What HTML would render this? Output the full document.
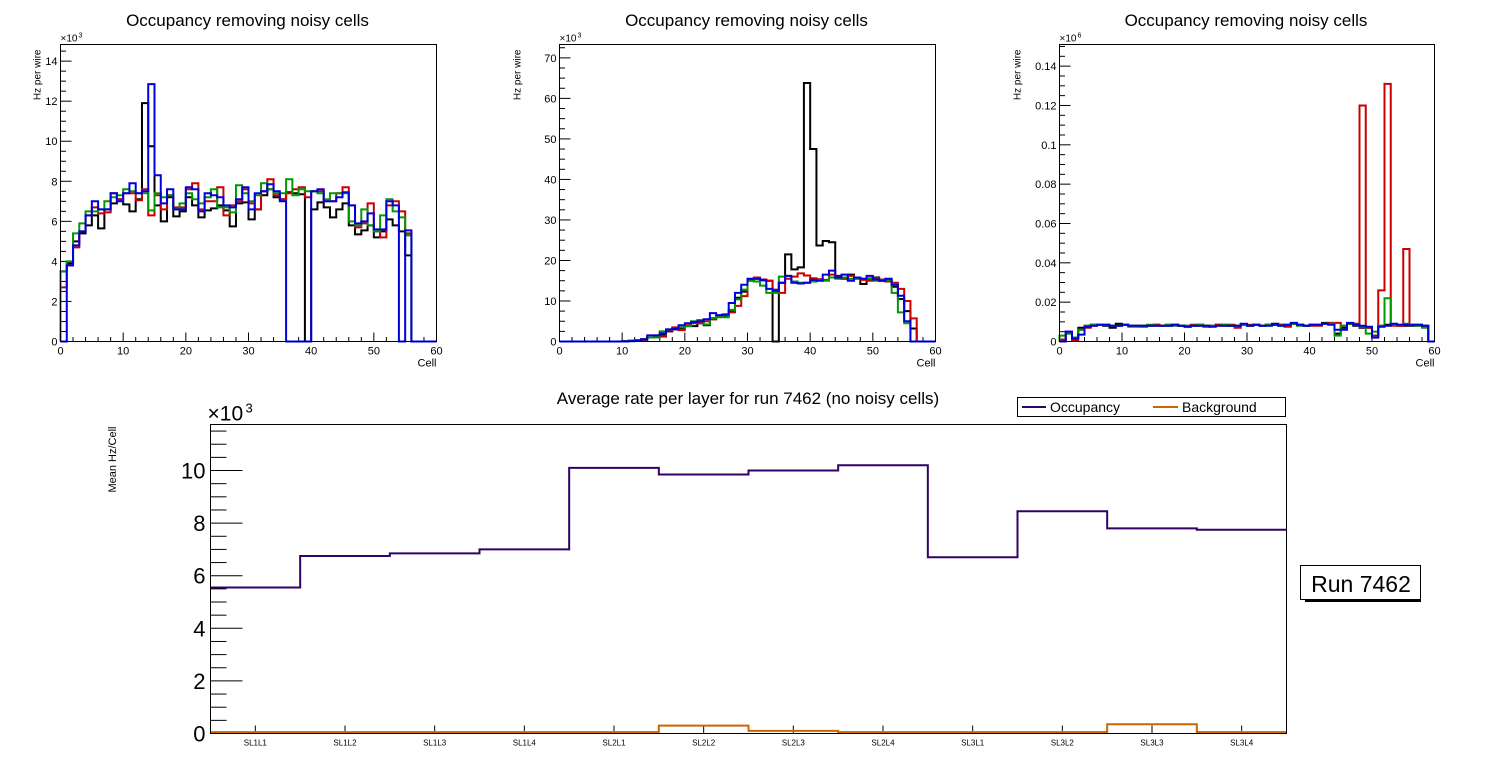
<!DOCTYPE html>
<html><head><meta charset="utf-8"><style>
body{margin:0;background:#fff;}
svg{display:block;font-family:"Liberation Sans",sans-serif;}
</style></head><body>
<svg id="c" width="1496" height="772" xmlns="http://www.w3.org/2000/svg"></svg>
<script>
// ---- Top-left panel data (x10^3 Hz) ----
const tlBlack=[3.5,3.9,5.0,5.4,5.8,6.3,5.65,6.6,6.9,7.1,6.85,6.5,7.1,11.9,9.75,6.8,6.0,7.2,6.25,6.5,7.2,6.8,6.2,6.55,6.65,6.8,6.55,5.75,6.9,6.95,6.1,6.6,7.3,7.6,7.2,7.1,7.45,7.4,7.35,0,6.6,6.95,6.7,6.2,6.6,6.9,5.8,5.35,5.55,5.8,5.2,5.5,6.1,5.8,5.5,4.3,0,0,0,0];
const tlRed=[2.7,3.8,4.7,5.5,6.3,6.7,6.4,6.45,7.4,7.1,7.4,7.4,7.05,7.6,6.3,7.3,6.6,7.3,6.7,6.7,7.6,7.9,6.6,7.0,7.0,7.7,6.3,6.8,7.0,7.6,6.9,6.6,7.5,8.1,7.3,7.1,7.4,7.6,7.7,7.2,7.5,7.5,7.0,7.0,7.4,7.7,6.8,5.7,5.9,6.9,5.5,5.2,6.8,7.0,6.5,5.4,0,0,0,0];
const tlGreen=[3.5,4.0,5.4,5.9,6.5,6.5,6.6,7.0,7.2,7.3,7.6,7.5,7.4,7.4,6.55,7.4,7.2,7.3,6.6,6.9,7.4,7.1,6.9,7.2,7.6,6.7,6.7,6.45,7.8,7.4,7.0,7.3,7.9,7.6,7.4,7.4,8.1,7.3,7.6,7.5,7.5,7.4,7.1,7.4,7.4,7.4,6.0,5.8,6.6,5.8,5.5,6.3,7.1,6.5,6.2,5.3,0,0,0,0];
const tlBlue=[0,3.8,4.8,5.5,6.3,7.0,6.6,6.6,7.4,7.0,7.4,7.9,7.4,7.5,12.85,8.3,6.9,7.6,6.6,6.6,7.7,7.6,6.5,7.4,7.3,7.2,6.8,6.7,7.1,7.7,6.6,7.4,7.5,7.85,7.5,7.0,0,0,0,0,7.5,7.6,7.0,7.0,7.2,7.45,6.8,5.9,6.0,6.4,5.6,5.6,7.0,6.8,0,5.55,0,0,0,0];
// ---- Top-middle panel data (x10^3 Hz) ----
const tmBlack=[0,0,0,0,0,0,0,0,0,0,0.1,0.2,0.3,0.6,1.0,1.3,1.7,2.5,3.0,3.3,3.8,3.8,4.5,4.0,5.5,6.3,6.2,7.5,10.8,12.3,15.2,15.5,15.1,15.0,0,14.5,21.5,17.8,18.3,63.8,47.5,23.7,24.8,24.5,16.2,15.5,16.5,15.8,14.2,15.5,15.8,15.0,15.2,13.5,10.5,7.5,3.2,0,0,0];
const tmRed=[0,0,0,0,0,0,0,0,0,0,0,0.2,0.3,0.2,1.0,1.5,1.2,2.7,3.5,2.8,4.0,4.5,4.5,5.0,5.5,6.2,6.5,7.2,8.8,11.2,15.0,15.8,15.3,15.0,12.8,12.0,15.5,16.0,16.8,16.3,15.6,15.4,15.2,16.5,16.0,15.5,16.2,15.5,15.2,15.0,15.6,15.3,14.8,14.5,13.0,10.0,5.7,0,0,0];
const tmGreen=[0,0,0,0,0,0,0,0,0,0,0,0.1,0.2,0.5,1.0,1.0,2.5,3.0,3.3,3.5,3.8,5.0,5.3,4.2,5.8,6.0,6.0,7.8,10.4,12.8,15.0,14.8,13.8,12.0,12.0,16.0,16.2,14.8,14.5,14.5,14.8,15.2,15.0,15.8,15.5,15.8,15.5,15.5,15.5,15.6,15.0,15.0,15.2,12.0,7.2,4.5,0,0,0,0];
const tmBlue=[0,0,0,0,0,0,0,0,0,0,0,0.1,0.2,0.5,1.5,1.5,2.0,3.0,3.2,4.0,4.5,4.8,5.0,5.5,7.0,6.5,6.7,9.5,12.0,14.0,15.5,15.5,15.2,13.0,12.5,14.5,16.2,14.5,14.3,14.5,15.2,15.0,16.5,17.5,15.8,16.5,15.0,15.8,15.5,16.2,15.3,15.0,15.5,14.0,11.3,5.0,0,0,0,0];
// ---- Top-right panel data (x10^-3 of 10^6 Hz) ----
const trBlack=[0,4,2,7,8,8.5,8.5,8,7,9,8.5,8,8,8,8,8.5,8,8,8.5,8,8,8,8.5,8,8,8.5,8.5,8,8,8.5,8,8.5,8,8.5,9,8.5,8,9,8.5,8,8.5,8.5,9.5,9,4,7,9,8,7,7,3,8,8.5,8.5,8,8,8,8,8,0];
const trRed=[1,5,0.5,6,7,8,8.5,8.5,8,8,8.5,8,8,7.5,8,8.5,8,8.5,8.5,8,7.5,8.5,8,7.5,8,8.5,8,8.5,7,8.5,8.5,8.5,8,8.5,8.5,8.5,7.5,9,8.5,8,8,8,9,9.5,9.5,8,9,9,120,7,3,26,131,8,8,47,8.5,8.5,8,0];
const trGreen=[3,4,2,6,8,8.5,8.5,8.5,8,8,8.5,7.5,7.5,8,8.5,8,8,8.5,8,8,8,8,8.5,8,8,8,8.5,8,8,8.5,8,8.5,8,8.5,8.5,8,8.5,9,8,8,8.5,8.5,9,9,3,8,9,8.5,7.5,4,5,8,22,8.5,8.5,9,8.5,8,7,0];
const trBlue=[0,5,1.5,3.5,7.5,8,8.5,8.5,8,8,8.5,8,8,8,8,8,8,8,8.5,8,7.5,8,8,8,7.5,8,8,8,8,9,8,8.5,8,8,8.5,8,8.5,9.5,8.5,8,8.5,8.5,9,8.5,6,6,9.5,8.5,8,7.5,2,7.5,8,9,8.5,8.5,8.5,8.5,8,0];
// ---- Bottom chart data (x10^3 Hz/Cell) ----
const layers=["SL1L1","SL1L2","SL1L3","SL1L4","SL2L1","SL2L2","SL2L3","SL2L4","SL3L1","SL3L2","SL3L3","SL3L4"];
const occupancy=[5.55,6.75,6.85,7.0,10.1,9.85,10.0,10.2,6.7,8.45,7.8,7.75];
const background=[0.05,0.05,0.05,0.05,0.05,0.3,0.1,0.05,0.05,0.05,0.35,0.05];
const tlTicks=[0,2,4,6,8,10,12,14];
const tmTicks=[0,10,20,30,40,50,60,70];
const trTicks=["0","0.02","0.04","0.06","0.08","0.1","0.12","0.14"];
const xTicks=[0,10,20,30,40,50,60];
const botTicks=[0,2,4,6,8,10];

const svg=document.getElementById('c');
const NS='http://www.w3.org/2000/svg';
function el(tag,attrs,parent){const e=document.createElementNS(NS,tag);for(const k in attrs)e.setAttribute(k,attrs[k]);(parent||svg).appendChild(e);return e;}
function txt(s,attrs,parent){const e=el('text',attrs,parent);e.textContent=s;return e;}

function panel(name,x0,x1,y0,y1,ymax,majorStep,minorN,tickLabels,series,title,ytOff,emax){
  const g=el('g',{});
  
  
  const sx=v=>x0+(x1-x0)*v/60, sy=v=>y1-(y1-y0)*Math.min(v,ymax)/ymax;
  const t=txt(title,{x:(x0+x1)/2-1,y:26,'font-size':17,'text-anchor':'middle'},g);
  
  
  const minor=majorStep/minorN;
  for(let v=0;v<=ymax+1e-9;v+=minor){
    const isMaj=Math.abs(v/majorStep-Math.round(v/majorStep))<1e-6;
    el('line',{x1:x0,x2:x0+(isMaj?11:5.5),y1:sy(v),y2:sy(v),stroke:'#000','stroke-width':1},g);
  }
  tickLabels.forEach((lab,i)=>{
    const tl=txt(lab,{x:x0-3,y:sy(i*majorStep)+4,'font-size':11,'text-anchor':'end'},g);
    
    
  });
  for(let v=0;v<=60;v+=2){
    const isMaj=v%10===0;
    el('line',{x1:sx(v),x2:sx(v),y1:y1,y2:y1-(isMaj?9:4.5),stroke:'#000','stroke-width':1},g);
  }
  xTicks.forEach(v=>{
    const xl=txt(String(v),{x:sx(v),y:y1+13,'font-size':11,'text-anchor':'middle'},g);
    
    
  });
  const xt=txt('Cell',{x:x1,y:y1+25,'font-size':11,'text-anchor':'end'},g);
  
  
  const yt=txt('Hz per wire',{x:0,y:0,'font-size':10,'text-anchor':'end',transform:`translate(${x0-ytOff},${y0+5}) rotate(-90)`},g);
  
  
  const ex=txt('\u00d710',{x:x0,y:y0-3,'font-size':10},g);
  
  
  txt(emax,{x:x0+18,y:y0-7,'font-size':7},g);
  series.forEach(([vals,col])=>{
    let d=`M${sx(0)},${sy(0)}`;
    vals.forEach((v,i)=>{d+=`L${sx(i)},${sy(v)}L${sx(i+1)},${sy(v)}`;});
    d+=`L${sx(60)},${sy(0)}`;
    const p=el('path',{d:d,fill:'none',stroke:col,'stroke-width':2},g);
    
    
  });
  const fr=el('rect',{x:x0,y:y0,width:x1-x0,height:y1-y0,fill:'none',stroke:'#000','stroke-width':1},g);
  
  
}
const K='#000',R='#cc0000',G='#009900',B='#0000dd';
panel('panel-top-left',60.5,436.5,44.5,341.5,14.83,2,4,tlTicks.map(String),[[tlBlack,K],[tlRed,R],[tlGreen,G],[tlBlue,B]],'Occupancy removing noisy cells',20,'3');
panel('panel-top-middle',559.5,935.5,44.5,341.5,73.3,10,4,tmTicks.map(String),[[tmBlack,K],[tmRed,R],[tmGreen,G],[tmBlue,B]],'Occupancy removing noisy cells',39,'3');
panel('panel-top-right',1059.5,1434.5,44.5,341.5,151,20,4,trTicks,[[trBlack,K],[trRed,R],[trGreen,G],[trBlue,B]],'Occupancy removing noisy cells',39,'6');

// bottom chart
(function(){
  const x0=210.5,x1=1286.5,y0=424.5,y1=733.5,ymax=11.75,n=layers.length;
  const g=el('g',{});
  
  
  const sx=i=>x0+(x1-x0)*i/n, sy=v=>y1-(y1-y0)*v/ymax;
  const t=txt('Average rate per layer for run 7462 (no noisy cells)',{x:748,y:404,'font-size':17,'text-anchor':'middle'},g);
  
  
  for(let v=0;v<=ymax;v+=0.5){
    const isMaj=Math.abs(v%2)<1e-6;
    el('line',{x1:x0,x2:x0+(isMaj?32:16),y1:sy(v),y2:sy(v),stroke:'#000','stroke-width':1},g);
  }
  botTicks.forEach(v=>{
    const l=txt(String(v),{x:x0-5,y:sy(v)+8,'font-size':22,'text-anchor':'end'},g);
    
    
  });
  const ex=txt('\u00d710',{x:x0-3,y:y0-4,'font-size':21},g);
  
  
  txt('3',{x:x0+35,y:y0-12,'font-size':13},g);
  const yt=txt('Mean Hz/Cell',{x:0,y:0,'font-size':11,'text-anchor':'end',transform:`translate(116,${y0+2}) rotate(-90)`},g);
  
  
  layers.forEach((lab,i)=>{
    const cx=sx(i+0.5);
    el('line',{x1:cx,x2:cx,y1:y1,y2:y1-8,stroke:'#000','stroke-width':1},g);
    const l=txt(lab,{x:cx,y:y1+12,'font-size':8,'text-anchor':'middle'},g);
    
    
  });
  function step(vals,col,name){
    let d=`M${sx(0)},${sy(vals[0])}`;
    vals.forEach((v,i)=>{d+=`L${sx(i)},${sy(v)}L${sx(i+1)},${sy(v)}`;});
    const p=el('path',{d:d,fill:'none',stroke:col,'stroke-width':2},g);
    
    
  }
  step(background,'#cc6600','background-line');
  step(occupancy,'#330066','occupancy-line');
  const fr=el('rect',{x:x0,y:y0,width:x1-x0,height:y1-y0,fill:'none',stroke:'#000','stroke-width':1},g);
  
  
  const lg=el('g',{},g);
  
  
  el('rect',{x:1017.5,y:397.5,width:268,height:19,fill:'#fff',stroke:'#000','stroke-width':1},lg);
  el('line',{x1:1022,x2:1046,y1:407,y2:407,stroke:'#330066','stroke-width':2},lg);
  const l1=txt('Occupancy',{x:1050,y:412,'font-size':14},lg);
  
  
  el('line',{x1:1153,x2:1178,y1:407,y2:407,stroke:'#cc6600','stroke-width':2},lg);
  const l2=txt('Background',{x:1182,y:412,'font-size':14},lg);
  
  
  const rb=el('g',{});
  
  
  el('rect',{x:1305,y:597,width:116,height:5,fill:'#000'},rb);
  el('rect',{x:1300.5,y:565.5,width:120,height:34,fill:'#fff',stroke:'#000','stroke-width':1},rb);
  txt('Run 7462',{x:1361,y:592,'font-size':23,'text-anchor':'middle'},rb);
})();
</script>
</body></html>
